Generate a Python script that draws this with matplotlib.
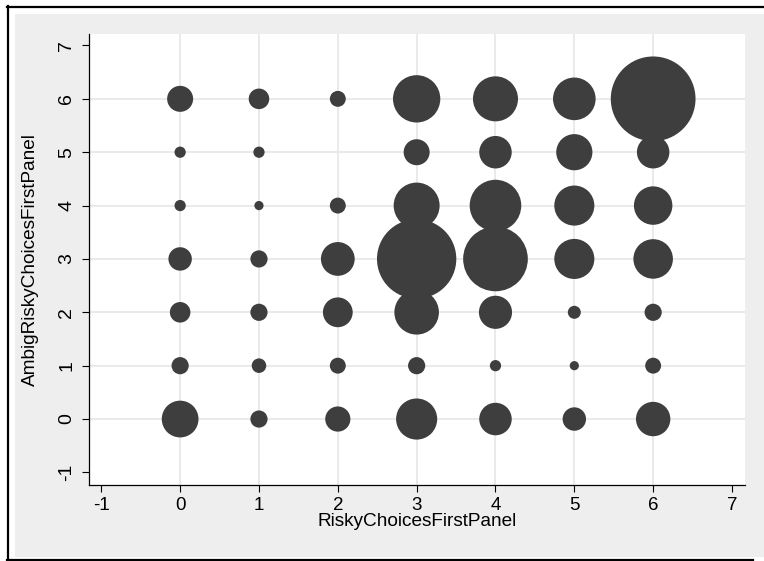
import numpy as np
import matplotlib
matplotlib.use('Agg')
import matplotlib.pyplot as plt
from matplotlib.lines import Line2D
from matplotlib.patches import Rectangle

plt.rcParams['font.family'] = ['Liberation Sans', 'DejaVu Sans']

# number of subjects at each (risky, ambig-risky) pair
risky_choices = [0, 1, 2, 3, 4, 5, 6,
                 0, 1, 2, 3, 4, 5, 6,
                 0, 1, 2, 3, 4, 5, 6,
                 0, 1, 2, 3, 4, 5, 6,
                 0, 1, 2, 3, 4, 5, 6,
                 0, 1, 3, 4, 5, 6,
                 0, 1, 2, 3, 4, 5, 6]
ambig_choices = [0, 0, 0, 0, 0, 0, 0,
                 1, 1, 1, 1, 1, 1, 1,
                 2, 2, 2, 2, 2, 2, 2,
                 3, 3, 3, 3, 3, 3, 3,
                 4, 4, 4, 4, 4, 4, 4,
                 5, 5, 5, 5, 5, 5,
                 6, 6, 6, 6, 6, 6, 6]
freq = [32, 7, 15, 40, 25, 13, 28,
        7, 5, 6, 7, 3, 2, 6,
        10, 7, 21, 47, 26, 4, 7,
        13, 7, 27, 149, 99, 38, 37,
        3, 2, 6, 50, 63, 38, 35,
        3, 3, 16, 25, 31, 25,
        16, 10, 6, 53, 48, 43, 170]
ticks = [-1, 0, 1, 2, 3, 4, 5, 6, 7]
grid_vals = [0, 1, 2, 3, 4, 5, 6]

W, H = 764, 561
fig = plt.figure(figsize=(W / 100, H / 100), dpi=100, facecolor='white')

def fx(px):
    return px / W

def fy(py):
    return 1 - py / H

# stata-like graph region + frame
fig.add_artist(Rectangle((fx(15), fy(557)), fx(764) - fx(15), fy(14) - fy(557),
                         transform=fig.transFigure, facecolor='#eeeeee', edgecolor='none', zorder=0))
lw = 1.6
fig.add_artist(Line2D([fx(7.5), fx(7.5)], [fy(6), fy(560)], transform=fig.transFigure, color='black', lw=lw))
fig.add_artist(Line2D([fx(7), fx(764)], [fy(6.5), fy(6.5)], transform=fig.transFigure, color='black', lw=lw))
fig.add_artist(Line2D([fx(7), fx(753)], [fy(559.5), fy(559.5)], transform=fig.transFigure, color='black', lw=lw))

ax = fig.add_axes([fx(89), fy(485), fx(745) - fx(89), fy(34) - fy(485)])
ax.set_facecolor('white')

for v in grid_vals:
    ax.axvline(v, color='#e8e8e8', lw=1.3, zorder=1)
    ax.axhline(v, color='#e8e8e8', lw=1.3, zorder=1)

ax.scatter(risky_choices, ambig_choices, s=np.array(freq) * 21.9,
           color='#3e3e3e', linewidths=0, zorder=3)

ax.set_xlim(-1.156, 7.165)
ax.set_ylim(-1.236, 7.215)
ax.set_xticks(ticks)
ax.set_yticks(ticks)
ax.set_xticklabels([str(t) for t in ticks], fontsize=13.5)
ax.set_yticklabels([str(t) for t in ticks], fontsize=14, rotation=90, va='center')
ax.tick_params(axis='both', length=5, width=0.8, color='black')
ax.tick_params(axis='x', pad=4)
ax.tick_params(axis='y', pad=5)

for side in ['top', 'right']:
    ax.spines[side].set_visible(False)
for side in ['left', 'bottom']:
    ax.spines[side].set_linewidth(0.9)

ax.set_xlabel('RiskyChoicesFirstPanel', fontsize=13.7)
ax.set_ylabel('AmbigRiskyChoicesFirstPanel', fontsize=13.7)
ax.xaxis.set_label_coords(0.5, -0.063)
ax.yaxis.set_label_coords(-0.077, 0.5)

fig.savefig('out.png', dpi=100)
